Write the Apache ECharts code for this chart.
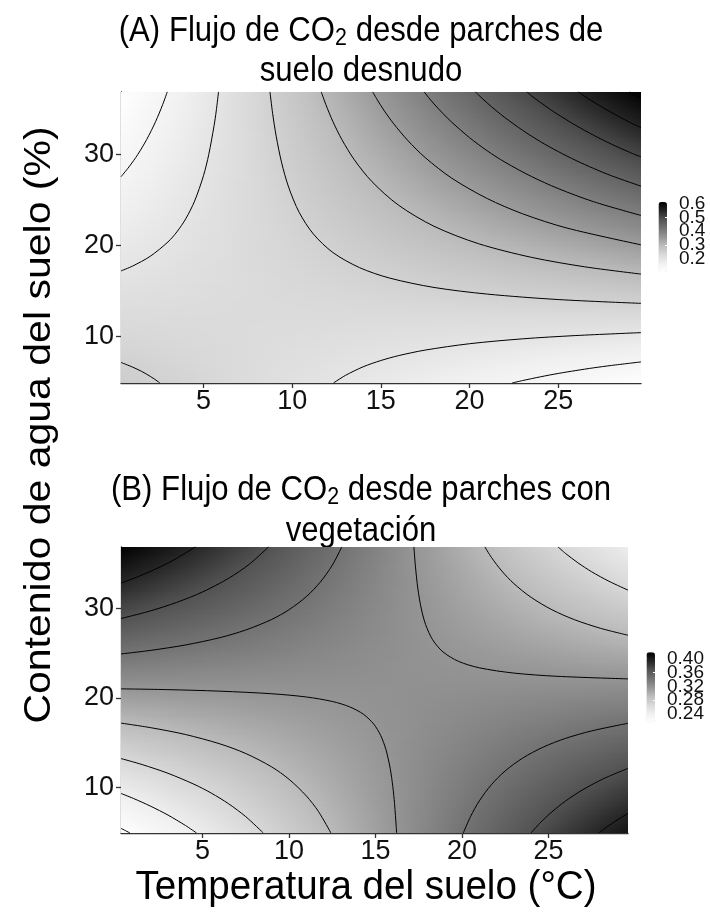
<!DOCTYPE html>
<html>
<head>
<meta charset="utf-8">
<script src="https://cdn.jsdelivr.net/npm/echarts@6/dist/echarts.min.js"></script>
<style>
  html, body { margin: 0; padding: 0; background: #fff; }
  #chart { width: 710px; height: 924px; }
</style>
</head>
<body>
<div id="chart"></div>
<script>
// Grid nodes: soil temperature (°C) and soil water content (%)
const tempNodes = [0, 2, 4, 6, 8, 10, 12, 14, 16, 18, 20, 22, 24, 26, 28, 30];
const waterNodes = [4, 6, 8, 10, 12, 14, 16, 18, 20, 22, 24, 26, 28, 30, 32, 34, 36, 38];

// CO2 flux at the nodes, bare soil patches (rows follow waterNodes, columns follow tempNodes)
const bareFlux = [
  [0.2655,0.2544,0.2433,0.2322,0.2211,0.2100,0.1989,0.1878,0.1767,0.1656,0.1545,0.1434,0.1323,0.1212,0.1101,0.0990],
  [0.2554,0.2471,0.2387,0.2304,0.2221,0.2138,0.2054,0.1971,0.1888,0.1804,0.1721,0.1638,0.1555,0.1471,0.1388,0.1305],
  [0.2453,0.2397,0.2342,0.2286,0.2231,0.2175,0.2120,0.2064,0.2008,0.1953,0.1897,0.1842,0.1786,0.1731,0.1675,0.1620],
  [0.2351,0.2324,0.2296,0.2268,0.2240,0.2213,0.2185,0.2157,0.2129,0.2101,0.2074,0.2046,0.2018,0.1990,0.1963,0.1935],
  [0.2250,0.2250,0.2250,0.2250,0.2250,0.2250,0.2250,0.2250,0.2250,0.2250,0.2250,0.2250,0.2250,0.2250,0.2250,0.2250],
  [0.2149,0.2177,0.2204,0.2232,0.2260,0.2288,0.2316,0.2343,0.2371,0.2399,0.2427,0.2454,0.2482,0.2510,0.2538,0.2565],
  [0.2047,0.2103,0.2158,0.2214,0.2269,0.2325,0.2380,0.2436,0.2492,0.2547,0.2603,0.2658,0.2714,0.2769,0.2825,0.2880],
  [0.1946,0.2029,0.2113,0.2196,0.2279,0.2362,0.2446,0.2529,0.2612,0.2696,0.2779,0.2862,0.2945,0.3029,0.3112,0.3195],
  [0.1845,0.1956,0.2067,0.2178,0.2289,0.2400,0.2511,0.2622,0.2733,0.2844,0.2955,0.3066,0.3177,0.3288,0.3399,0.3510],
  [0.1743,0.1882,0.2021,0.2160,0.2299,0.2437,0.2576,0.2715,0.2854,0.2993,0.3131,0.3270,0.3409,0.3548,0.3687,0.3825],
  [0.1642,0.1809,0.1975,0.2142,0.2308,0.2475,0.2641,0.2808,0.2975,0.3141,0.3308,0.3474,0.3641,0.3807,0.3974,0.4140],
  [0.1541,0.1735,0.1929,0.2124,0.2318,0.2512,0.2707,0.2901,0.3095,0.3290,0.3484,0.3678,0.3873,0.4067,0.4261,0.4456],
  [0.1439,0.1661,0.1884,0.2106,0.2328,0.2550,0.2772,0.2994,0.3216,0.3438,0.3660,0.3882,0.4104,0.4327,0.4549,0.4771],
  [0.1338,0.1588,0.1838,0.2088,0.2337,0.2587,0.2837,0.3087,0.3337,0.3587,0.3836,0.4086,0.4336,0.4586,0.4836,0.5086],
  [0.1237,0.1514,0.1792,0.2070,0.2347,0.2625,0.2902,0.3180,0.3458,0.3735,0.4013,0.4290,0.4568,0.4846,0.5123,0.5401],
  [0.1135,0.1441,0.1746,0.2052,0.2357,0.2662,0.2968,0.3273,0.3578,0.3884,0.4189,0.4495,0.4800,0.5105,0.5411,0.5716],
  [0.1034,0.1367,0.1700,0.2033,0.2367,0.2700,0.3033,0.3366,0.3699,0.4032,0.4365,0.4698,0.5032,0.5365,0.5698,0.6031],
  [0.0933,0.1294,0.1655,0.2016,0.2376,0.2737,0.3098,0.3459,0.3820,0.4181,0.4542,0.4903,0.5264,0.5625,0.5986,0.6347]
];

// CO2 flux at the nodes, vegetated patches
const vegFlux = [
  [0.2074,0.2210,0.2346,0.2481,0.2617,0.2753,0.2888,0.3024,0.3160,0.3295,0.3431,0.3567,0.3702,0.3838,0.3974,0.4109],
  [0.2204,0.2324,0.2444,0.2564,0.2684,0.2805,0.2925,0.3045,0.3165,0.3285,0.3405,0.3525,0.3646,0.3766,0.3886,0.4006],
  [0.2333,0.2438,0.2542,0.2647,0.2752,0.2856,0.2961,0.3066,0.3170,0.3275,0.3380,0.3484,0.3589,0.3694,0.3799,0.3903],
  [0.2463,0.2552,0.2641,0.2730,0.2819,0.2908,0.2998,0.3087,0.3176,0.3265,0.3354,0.3443,0.3532,0.3621,0.3711,0.3800],
  [0.2592,0.2666,0.2739,0.2813,0.2887,0.2960,0.3034,0.3108,0.3181,0.3255,0.3329,0.3402,0.3476,0.3550,0.3623,0.3697],
  [0.2722,0.2780,0.2838,0.2896,0.2954,0.3012,0.3070,0.3128,0.3187,0.3245,0.3303,0.3361,0.3419,0.3477,0.3535,0.3594],
  [0.2851,0.2894,0.2936,0.2979,0.3021,0.3064,0.3107,0.3149,0.3192,0.3235,0.3277,0.3320,0.3363,0.3405,0.3448,0.3491],
  [0.2980,0.3008,0.3035,0.3062,0.3089,0.3116,0.3143,0.3170,0.3198,0.3225,0.3252,0.3279,0.3306,0.3333,0.3360,0.3387],
  [0.3110,0.3122,0.3133,0.3145,0.3156,0.3168,0.3180,0.3191,0.3203,0.3215,0.3226,0.3238,0.3249,0.3261,0.3273,0.3284],
  [0.3239,0.3236,0.3232,0.3228,0.3224,0.3220,0.3216,0.3212,0.3208,0.3205,0.3201,0.3197,0.3193,0.3189,0.3185,0.3181],
  [0.3369,0.3349,0.3330,0.3311,0.3291,0.3272,0.3253,0.3233,0.3214,0.3194,0.3175,0.3156,0.3136,0.3117,0.3097,0.3078],
  [0.3498,0.3463,0.3428,0.3394,0.3359,0.3324,0.3289,0.3254,0.3219,0.3184,0.3149,0.3115,0.3080,0.3045,0.3010,0.2975],
  [0.3628,0.3577,0.3527,0.3476,0.3426,0.3376,0.3325,0.3275,0.3225,0.3174,0.3124,0.3074,0.3023,0.2973,0.2922,0.2872],
  [0.3757,0.3691,0.3626,0.3560,0.3494,0.3428,0.3362,0.3296,0.3230,0.3164,0.3098,0.3032,0.2966,0.2900,0.2835,0.2769],
  [0.3887,0.3805,0.3724,0.3642,0.3561,0.3480,0.3398,0.3317,0.3235,0.3154,0.3073,0.2991,0.2910,0.2828,0.2747,0.2666],
  [0.4016,0.3919,0.3822,0.3725,0.3629,0.3532,0.3435,0.3338,0.3241,0.3144,0.3047,0.2950,0.2853,0.2756,0.2659,0.2563],
  [0.4146,0.4033,0.3921,0.3808,0.3696,0.3584,0.3471,0.3359,0.3246,0.3134,0.3022,0.2909,0.2797,0.2684,0.2572,0.2460],
  [0.4275,0.4147,0.4019,0.3891,0.3763,0.3635,0.3507,0.3380,0.3252,0.3124,0.2996,0.2868,0.2740,0.2612,0.2484,0.2356]
];

// Contour lines, bare soil: [temperature, water content]
const bareContours = [
  // 0.15
  [[0.35,27.54],[0.8,28.62],[1.3,30.0],[1.8,31.64],[2.3,33.6],[2.7,35.48],[2.96,36.88]],
  [[22.4,4.85],[23,5.12],[24,5.53],[25,5.9],[26,6.22],[27,6.52],[28,6.78],[29.67,7.17]],
  // 0.20
  [[0.35,17.18],[1,17.71],[2,18.79],[3,20.37],[3.5,21.47],[4,22.91],[4.5,24.86],[5,27.65],[5.3,30.0],[5.6,33.18],[5.72,34.78],[5.85,36.88]],
  [[12.33,4.85],[13,5.68],[14,6.63],[15,7.32],[16,7.86],[17.5,8.47],[20,9.17],[23,9.71],[26,10.07],[29.67,10.39]],
  // 0.25
  [[0.35,7.11],[1,6.6],[1.5,6.14],[2,5.58],[2.45,4.99],[2.54,4.85]],
  [[8.75,36.88],[8.9,34.5],[9.1,32.0],[9.4,29.14],[9.8,26.4],[10.4,23.61],[11.2,21.23],[12.3,19.2],[13.8,17.54],[15.5,16.39],[18,15.36],[21,14.63],[25,14.03],[29.67,13.61]],
  // 0.30
  [[11.64,36.88],[11.9,35.48],[12.3,33.6],[12.8,31.64],[13.5,29.42],[14.5,27.0],[16,24.41],[18,22.09],[20.5,20.18],[23.5,18.67],[26.5,17.63],[29.67,16.83]],
  // 0.35
  [[14.54,36.88],[14.8,36.0],[15.2,34.78],[15.7,33.43],[16.5,31.57],[17.5,29.65],[19,27.38],[21,25.14],[23,23.46],[25.5,21.89],[29.67,20.05]],
  // 0.40
  [[17.44,36.88],[17.7,36.23],[18,35.55],[18.5,34.5],[19,33.54],[20,31.84],[21,30.39],[22,29.14],[23.5,27.56],[25,26.24],[27,24.79],[29.67,23.28]],
  // 0.45
  [[20.33,36.88],[20.5,36.55],[21,35.65],[21.5,34.82],[22,34.04],[23,32.64],[24,31.4],[25,30.31],[26,29.33],[27,28.45],[28,27.65],[29.67,26.5]],
  // 0.50
  [[23.23,36.88],[23.5,36.44],[24,35.71],[24.5,35.02],[25,34.37],[26,33.18],[27,32.1],[28,31.13],[29,30.25],[29.67,29.72]],
  // 0.55
  [[26.13,36.88],[26.5,36.38],[27,35.76],[27.5,35.17],[28,34.61],[28.5,34.08],[29,33.57],[29.67,32.94]],
  // 0.60
  [[29.02,36.88],[29.3,36.55],[29.67,36.16]]
];

// Contour lines, vegetated patches
const vegContours = [
  [[0.28,32.83],[1.2,33.5],[2.2,34.33],[3.3,35.38],[4.59,36.88]],
  [[27.9,4.89],[28.4,5.6],[29,6.38],[29.6,7.08]],
  [[0.28,28.87],[2,29.73],[3.5,30.67],[5,31.84],[6.5,33.36],[7.7,34.94],[8.82,36.88]],
  [[23.99,4.9],[24.5,5.99],[25.2,7.26],[26,8.49],[27,9.75],[28.2,10.98],[29.6,12.12]],
  [[0.28,24.91],[2,25.31],[4,25.91],[6,26.73],[7.5,27.59],[9,28.77],[10,29.86],[11,31.32],[11.8,32.93],[12.5,34.83],[13.05,36.88]],
  [[20.07,4.88],[20.5,6.76],[21,8.48],[21.7,10.3],[22.5,11.84],[23.5,13.26],[24.7,14.5],[26,15.48],[27.5,16.31],[29.6,17.16]],
  [[0.28,21.01],[3,20.92],[6,20.75],[9,20.46],[11,20.1],[12.5,19.6],[13.5,19.0],[14.3,18.17],[14.9,17.06],[15.3,15.79],[15.6,14.23],[15.85,12.09],[16.0,10.07],[16.1,8.17],[16.2,5.5],[16.22,4.88]],
  [[17.22,36.88],[17.3,34.83],[17.45,32.17],[17.65,29.92],[17.9,28.17],[18.3,26.5],[18.9,25.14],[19.8,24.08],[21,23.36],[23,22.77],[25.5,22.41],[29.6,22.12]],
  [[0.28,17.18],[2,16.67],[4,15.91],[6,14.86],[7.5,13.78],[9,12.28],[10,10.9],[11,9.04],[11.7,7.3],[12.42,4.9]],
  [[21.32,36.88],[21.7,35.7],[22.3,34.18],[23,32.77],[24,31.23],[25.2,29.85],[26.5,28.74],[28,27.78],[29.6,27.0]],
  [[0.28,13.22],[1.5,12.55],[3,11.57],[4.5,10.35],[5.5,9.36],[6.5,8.17],[7.5,6.72],[8.51,4.9]],
  [[25.55,36.88],[26,36.12],[26.7,35.1],[27.5,34.09],[28.5,33.03],[29.6,32.04]],
  [[0.28,9.32],[1,8.76],[2,7.89],[3,6.9],[4,5.75],[4.65,4.9]],
  [[0.28,5.42],[0.55,5.15],[0.8,4.9]]
];

const tempTicks = [5, 10, 15, 20, 25];
const waterTicks = [10, 20, 30];
// colour-bar labels, split in two sets so that each axis keeps all of its labels
const bareLegendTicks = [0.2, 0.4, 0.6];
const bareLegendTicksMid = [0.3, 0.5];
const vegLegendTicks = [0.24, 0.32, 0.40];
const vegLegendTicksMid = [0.28, 0.36];

const FONT = '"Liberation Sans", Arial, Helvetica, sans-serif';
const GREYS = ['#ffffff','#f0f0f0','#d9d9d9','#bdbdbd','#969696','#737373','#525252','#252525','#000000'];
const AXIS_COLOR = '#333333';
const BARE_RANGE = [0.105, 0.611];
const VEG_RANGE = [0.215, 0.4185];

// one patch per pair of neighbouring nodes: [t0, w0, t1, w1, v00, v10, v01, v11]
function toPatches(flux) {
  const out = [];
  for (let i = 0; i < waterNodes.length - 1; i++) {
    for (let j = 0; j < tempNodes.length - 1; j++) {
      out.push([tempNodes[j], waterNodes[i], tempNodes[j + 1], waterNodes[i + 1],
        flux[i][j], flux[i][j + 1], flux[i + 1][j], flux[i + 1][j + 1]]);
    }
  }
  return out;
}

function shade(v, range) {
  const n = Math.max(0, Math.min(1, (v - range[0]) / (range[1] - range[0])));
  return echarts.color.lerp(n, GREYS);
}

// shades a patch in thin bands, each blending the patch's corner values across its width
function patchRenderer(range) {
  return function (params, api) {
    const t0 = api.value(0), w0 = api.value(1), t1 = api.value(2), w1 = api.value(3);
    const v00 = api.value(4), v10 = api.value(5), v01 = api.value(6), v11 = api.value(7);
    const pa = api.coord([t0, w0]);
    const pb = api.coord([t1, w1]);
    const cs = params.coordSys;
    const clip = { x: cs.x, y: cs.y, width: cs.width, height: cs.height };
    const top = pb[1], bottom = pa[1];
    const n = Math.max(1, Math.round((bottom - top) / 2));
    const h = (bottom - top) / n;
    const children = [];
    for (let k = 0; k < n; k++) {
      const fy = 1 - (k + 0.5) / n;
      const left = v00 + (v01 - v00) * fy;
      const right = v10 + (v11 - v10) * fy;
      const shape = echarts.graphic.clipRectByRect(
        { x: pa[0] - 0.5, y: top + k * h - 0.5, width: pb[0] - pa[0] + 1, height: h + 1 }, clip);
      if (!shape) continue;
      children.push({
        type: 'rect', shape: shape,
        style: { fill: new echarts.graphic.LinearGradient(pa[0], 0, pb[0], 0, [
          { offset: 0, color: shade(left, range) },
          { offset: 0.5, color: shade((left + right) / 2, range) },
          { offset: 1, color: shade(right, range) }
        ], true) }
      });
    }
    return { type: 'group', children: children };
  };
}

function mainXAxis(gridIndex, min, max) {
  return {
    type: 'value', gridIndex: gridIndex, min: min, max: max,
    axisLine: { show: true, onZero: false, lineStyle: { color: AXIS_COLOR, width: 1.3 } },
    axisTick: { show: true, length: 5, customValues: tempTicks, lineStyle: { color: AXIS_COLOR, width: 1.3 } },
    axisLabel: { customValues: tempTicks, fontSize: 27, fontFamily: FONT, color: '#111', margin: 5,
      interval: 0, hideOverlap: false, showMinLabel: true, showMaxLabel: true },
    splitLine: { show: false }
  };
}
function mainYAxis(gridIndex, min, max) {
  return {
    type: 'value', gridIndex: gridIndex, min: min, max: max,
    axisLine: { show: true, onZero: false, lineStyle: { color: AXIS_COLOR, width: 1.3 } },
    axisTick: { show: true, length: 5, customValues: waterTicks, lineStyle: { color: AXIS_COLOR, width: 1.3 } },
    axisLabel: { customValues: waterTicks, fontSize: 27, fontFamily: FONT, color: '#111', margin: 7,
      interval: 0, hideOverlap: false, showMinLabel: true, showMaxLabel: true },
    splitLine: { show: false }
  };
}
function legendYAxis(gridIndex, range, ticks, digits) {
  return {
    type: 'value', gridIndex: gridIndex, min: range[0], max: range[1], position: 'right', offset: 0, z: 10,
    axisLine: { show: false },
    axisTick: { show: true, inside: true, length: 2, customValues: ticks, lineStyle: { color: '#ffffff', width: 1 } },
    axisLabel: { customValues: ticks, fontSize: 19, fontFamily: FONT, color: '#111', margin: 12,
      interval: 0, hideOverlap: false, showMinLabel: true, showMaxLabel: true,
      formatter: function (v) { return v.toFixed(digits); } },
    splitLine: { show: false }
  };
}

function contourSeries(lines, axisIndex) {
  return lines.map(function (pts) {
    return {
      type: 'line', xAxisIndex: axisIndex, yAxisIndex: axisIndex, data: pts,
      showSymbol: false, symbol: 'none', smooth: 0.3, silent: true, z: 5,
      lineStyle: { color: '#000', width: 1 }
    };
  });
}

function titleText(x, y, text, size, sx) {
  return { type: 'text', x: x, y: y, scaleX: sx, silent: true,
    style: { text: text, fontSize: size, fontFamily: FONT, fill: '#000',
      textAlign: 'center', textVerticalAlign: 'middle',
      rich: { sub: { fontSize: Math.round(size * 0.68), fontFamily: FONT, padding: [Math.round(size * 0.4), 0, 0, 0] } } } };
}

const chart = echarts.init(document.getElementById('chart'), null, { renderer: 'canvas' });

chart.setOption({
  animation: false,
  backgroundColor: '#ffffff',
  grid: [
    { left: 121, top: 92, width: 520, height: 291 },
    { left: 121, top: 547, width: 507, height: 286 },
    { left: 658.5, top: 202, width: 8.5, height: 70 },
    { left: 646.5, top: 652.3, width: 8.5, height: 70.3 }
  ],
  xAxis: [
    mainXAxis(0, 0.35, 29.67),
    mainXAxis(1, 0.28, 29.6),
    { type: 'value', gridIndex: 2, show: false },
    { type: 'value', gridIndex: 3, show: false }
  ],
  yAxis: [
    mainYAxis(0, 4.85, 36.86),
    mainYAxis(1, 4.9, 36.86),
    legendYAxis(2, BARE_RANGE, bareLegendTicks, 1),
    legendYAxis(3, VEG_RANGE, vegLegendTicks, 2),
    legendYAxis(2, BARE_RANGE, bareLegendTicksMid, 1),
    legendYAxis(3, VEG_RANGE, vegLegendTicksMid, 2)
  ],
  visualMap: [
    { type: 'continuous', seriesIndex: 0, dimension: 4, min: BARE_RANGE[0], max: BARE_RANGE[1],
      inRange: { color: GREYS }, calculable: false, hoverLink: false, padding: 0,
      left: 658.5, top: 202, itemWidth: 8.5, itemHeight: 70 },
    { type: 'continuous', seriesIndex: 1, dimension: 4, min: VEG_RANGE[0], max: VEG_RANGE[1],
      inRange: { color: GREYS }, calculable: false, hoverLink: false, padding: 0,
      left: 646.5, top: 652.3, itemWidth: 8.5, itemHeight: 70.3 }
  ],
  series: [
    { type: 'custom', xAxisIndex: 0, yAxisIndex: 0, data: toPatches(bareFlux),
      encode: { x: [0, 2], y: [1, 3] }, renderItem: patchRenderer(BARE_RANGE), silent: true, z: 1 },
    { type: 'custom', xAxisIndex: 1, yAxisIndex: 1, data: toPatches(vegFlux),
      encode: { x: [0, 2], y: [1, 3] }, renderItem: patchRenderer(VEG_RANGE), silent: true, z: 1 }
  ].concat(contourSeries(bareContours, 0), contourSeries(vegContours, 1)),
  graphic: [
    titleText(361, 31, '(A) Flujo de CO{sub|2} desde parches de', 35, 0.89),
    titleText(361, 71, 'suelo desnudo', 35, 0.89),
    titleText(361, 490, '(B) Flujo de CO{sub|2} desde parches con', 35, 0.89),
    titleText(361, 531, 'vegetación', 35, 0.89),
    { type: 'text', x: 40, y: 425, rotation: Math.PI / 2, scaleY: 0.9, silent: true,
      style: { text: 'Contenido de agua del suelo (%)', fontSize: 41, fontFamily: FONT, fill: '#000',
        textAlign: 'center', textVerticalAlign: 'middle' } },
    { type: 'text', x: 366, y: 888, scaleX: 0.94, silent: true,
      style: { text: 'Temperatura del suelo (°C)', fontSize: 41, fontFamily: FONT, fill: '#000',
        textAlign: 'center', textVerticalAlign: 'middle' } }
  ]
});
</script>
</body>
</html>
